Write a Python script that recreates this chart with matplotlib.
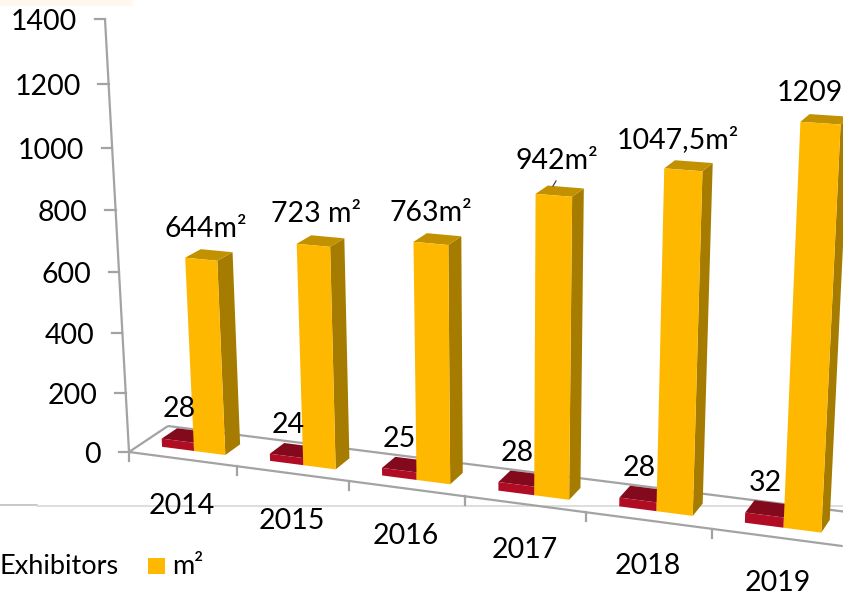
import matplotlib
matplotlib.use("Agg")
import matplotlib.pyplot as plt
from matplotlib.patches import Polygon, Rectangle

plt.rcParams['font.family'] = ['Lato', 'DejaVu Sans']

years = ['2014', '2015', '2016', '2017', '2018', '2019']
exhibitors = [28, 24, 25, 28, 28, 32]
area = [644, 723, 763, 942, 1047.5, 1209]
area_labels = ['644m²', '723 m²', '763m²', '942m²', '1047,5m²', '1209']
exhibitor_labels = ['28', '24', '25', '28', '28', '32']
y_ticks = [0, 200, 400, 600, 800, 1000, 1200, 1400]
legend_labels = ['Exhibitors', 'm²']

ORANGE = dict(front='#FFB800', side='#A67C00', top='#C29100')
RED = dict(front='#B00D25', side='#7A0A1B', top='#820A1C')
AXIS = '#A3A3A3'
FS = 20.5


def project(X, Y, Z):
    """Perspective projection of (category, depth, value) to figure pixels."""
    w = 1 - 0.0181 * X + 0.03 * Y - 3.82e-5 * Z
    px = 129 + 103.7 * X + 44 * Y - 0.02115 * Z + 0.0006 * X * Z
    py = 452 + 5.8 * X - 13.2 * Y - 0.310 * Z
    return px / w, py / w


fig = plt.figure(figsize=(8.43, 5.97), dpi=100)
ax = fig.add_axes([0, 0, 1, 1])
ax.set_xlim(0, 843)
ax.set_ylim(597, 0)
ax.axis('off')

# page decoration behind the chart
ax.add_patch(Rectangle((0, 0), 133, 6, fc='#FFF8EC', ec='none', zorder=0))
ax.plot([0, 37], [505, 505], color='#C8C8C8', lw=1.4, zorder=0.5)
ax.plot([37, 843], [506, 506], color='#DEDEDE', lw=1.4, zorder=0.5)

n = len(years)


def axis_line(p, q):
    ax.plot([p[0], q[0]], [p[1], q[1]], color=AXIS, lw=1.6, zorder=1,
            solid_capstyle='butt')


axis_line(project(0, 0, 0), project(n, 0, 0))
axis_line(project(0, 0, 0), project(0, 1, 0))
axis_line(project(0, 1, 0), project(n, 1, 0))
axis_line(project(0, 0, 0), project(0, 0, y_ticks[-1]))

for t in y_ticks:
    x, y = project(0, 0, t)
    ax.plot([x - 10.5, x], [y, y], color=AXIS, lw=1.6, zorder=1)
    ax.text(x - 28, y + 3, str(t), ha='right', va='center', fontsize=FS, color='black')

for i in range(n):
    x, y = project(i, 0, 0)
    ax.plot([x, x], [y, y + 9], color=AXIS, lw=1.6, zorder=1)


def bar3d(X0, X1, Y0, Y1, Z, colors):
    front = [project(X0, Y0, 0), project(X1, Y0, 0), project(X1, Y0, Z), project(X0, Y0, Z)]
    side = [project(X1, Y0, 0), project(X1, Y1, 0), project(X1, Y1, Z), project(X1, Y0, Z)]
    top = [project(X0, Y0, Z), project(X1, Y0, Z), project(X1, Y1, Z), project(X0, Y1, Z)]
    ax.add_patch(Polygon(side, fc=colors['side'], ec='none', zorder=2))
    ax.add_patch(Polygon(top, fc=colors['top'], ec='none', zorder=2))
    ax.add_patch(Polygon(front, fc=colors['front'], ec='none', zorder=2))


for i in range(n):
    bar3d(i + 0.2, i + 0.5, 0.3, 0.7, exhibitors[i], RED)
    bar3d(i + 0.5, i + 0.79, 0.3, 0.7, area[i], ORANGE)

area_xy = [(206, 229), (316, 214), (431, 213), (557, 161), (678, 140), (810, 93)]
for s, (x, y) in zip(area_labels, area_xy):
    ax.text(x, y, s, ha='center', va='center', fontsize=FS, color='black', zorder=4)
ax.plot([553, 556], [186, 181], color='#404040', lw=0.9, zorder=4)

exh_xy = [(179, 409), (288, 425), (399, 439), (517, 453), (639, 468), (765, 483)]
for s, (x, y) in zip(exhibitor_labels, exh_xy):
    ax.text(x, y, s, ha='center', va='center', fontsize=FS, color='black', zorder=4)

year_xy = [(182, 506), (292, 521), (406, 536), (525, 550), (648, 566), (778, 583)]
for s, (x, y) in zip(years, year_xy):
    ax.text(x, y, s, ha='center', va='center', fontsize=FS, color='black', zorder=4)

ax.text(-1, 567, legend_labels[0], ha='left', va='center', fontsize=19.5, color='black')
ax.add_patch(Rectangle((148, 558), 17, 16, fc=ORANGE['front'], ec='none'))
ax.text(172, 567, legend_labels[1], ha='left', va='center', fontsize=19.5, color='black')

fig.savefig('out.png', dpi=100)
